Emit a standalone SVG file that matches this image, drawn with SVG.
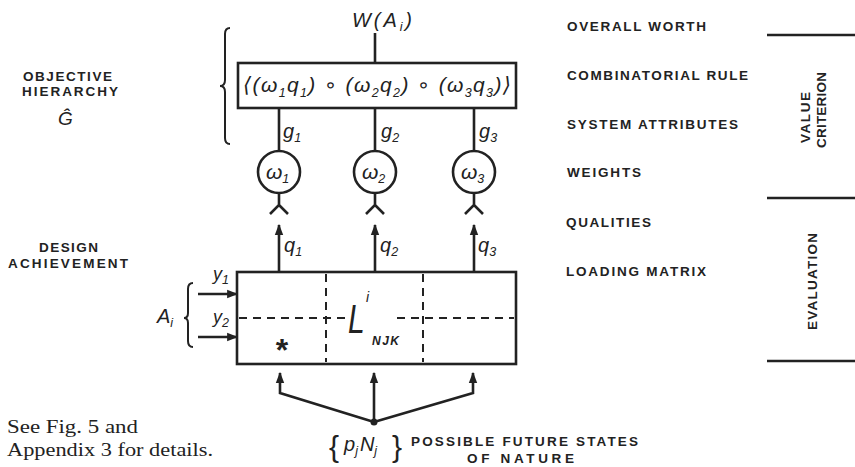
<svg xmlns="http://www.w3.org/2000/svg" width="855" height="467" viewBox="0 0 855 467">
<style>
.ln{stroke:#222;stroke-width:2.6;fill:none}
.dash{stroke:#222;stroke-width:2;fill:none;stroke-dasharray:8,6}
.lab{font-family:"Liberation Sans",Arial,sans-serif;font-weight:bold;font-size:13.5px;fill:#222}
.m{font-family:"Liberation Sans","DejaVu Sans",sans-serif;font-style:italic;font-size:20px;fill:#222}
.s{font-size:12.5px}
.serif{font-family:"Liberation Serif","Times New Roman",serif;font-size:19px;fill:#222}
</style>
<defs>
<marker id="ah" viewBox="0 0 10 10" refX="9" refY="5" markerWidth="11" markerHeight="11" markerUnits="userSpaceOnUse" orient="auto">
<path d="M0,1.2 L10,5 L0,8.8 Z" fill="#222"/>
</marker>
</defs>
<rect width="855" height="467" fill="#fff"/>

<g id="left-labels">
<text class="lab" x="23" y="81" textLength="89" lengthAdjust="spacing">OBJECTIVE</text>
<text class="lab" x="22" y="96" textLength="96" lengthAdjust="spacing">HIERARCHY</text>
<text class="m" x="58" y="125" style="font-size:19px">Ĝ</text>
<text class="lab" x="39" y="252" textLength="59" lengthAdjust="spacing">DESIGN</text>
<text class="lab" x="8" y="268" textLength="120" lengthAdjust="spacing">ACHIEVEMENT</text>
<text class="serif" x="7" y="433" textLength="131" lengthAdjust="spacingAndGlyphs">See Fig. 5 and</text>
<text class="serif" x="7" y="456" textLength="206" lengthAdjust="spacingAndGlyphs">Appendix 3 for details.</text>
</g>

<g id="right-labels">
<text class="lab" x="567" y="31" textLength="139" lengthAdjust="spacing">OVERALL WORTH</text>
<text class="lab" x="567" y="80" textLength="181" lengthAdjust="spacing">COMBINATORIAL RULE</text>
<text class="lab" x="567" y="129" textLength="171" lengthAdjust="spacing">SYSTEM ATTRIBUTES</text>
<text class="lab" x="567" y="177" textLength="74" lengthAdjust="spacing">WEIGHTS</text>
<text class="lab" x="566" y="227" textLength="85" lengthAdjust="spacing">QUALITIES</text>
<text class="lab" x="566" y="276" textLength="140" lengthAdjust="spacing">LOADING MATRIX</text>
<text class="lab" x="411" y="446" textLength="227" lengthAdjust="spacing">POSSIBLE FUTURE STATES</text>
<text class="lab" x="467" y="463" textLength="107" lengthAdjust="spacing">OF NATURE</text>
<path class="ln" d="M767,35 H855 M767,198 H855 M767,361 H855"/>
<text class="lab" transform="translate(810,143) rotate(-90)" textLength="51" lengthAdjust="spacing">VALUE</text>
<text class="lab" transform="translate(826,148) rotate(-90)" textLength="76" lengthAdjust="spacing">CRITERION</text>
<text class="lab" transform="translate(817,330) rotate(-90)" textLength="97" lengthAdjust="spacing">EVALUATION</text>
</g>

<g id="brace-top">
<path class="ln" style="stroke-width:2" d="M230,28 Q225,28 225,34 V80 Q225,86 220,86 Q225,86 225,92 V138 Q225,144 230,144"/>
</g>

<g id="worth">
<text class="m" x="352" y="27" textLength="60" lengthAdjust="spacing">W(A<tspan class="s" dy="4">i</tspan><tspan dy="-4">)</tspan></text>
</g>

<g id="rule-box">
<rect class="ln" x="238" y="63" width="278" height="45"/>
<text class="m" x="243" y="92" style="font-size:21px" textLength="268" lengthAdjust="spacing">⟨(ω<tspan class="s" dy="5">1</tspan><tspan dy="-5">q</tspan><tspan class="s" dy="5">1</tspan><tspan dy="-5">) ∘ (ω</tspan><tspan class="s" dy="5">2</tspan><tspan dy="-5">q</tspan><tspan class="s" dy="5">2</tspan><tspan dy="-5">) ∘ (ω</tspan><tspan class="s" dy="5">3</tspan><tspan dy="-5">q</tspan><tspan class="s" dy="5">3</tspan><tspan dy="-5">)⟩</tspan></text>
</g>

<g id="weight1">
<circle class="ln" cx="279" cy="172" r="21"/>
<text class="m" x="266" y="179" style="font-size:21px">ω<tspan class="s" dy="4">1</tspan></text>
</g>
<g id="weight2">
<circle class="ln" cx="375" cy="172" r="21"/>
<text class="m" x="362" y="179" style="font-size:21px">ω<tspan class="s" dy="4">2</tspan></text>
</g>
<g id="weight3">
<circle class="ln" cx="474" cy="172" r="21"/>
<text class="m" x="461" y="179" style="font-size:21px">ω<tspan class="s" dy="4">3</tspan></text>
</g>

<g id="matrix">
<rect class="ln" x="237" y="272" width="279" height="92"/>
<path class="dash" d="M326,274 V362 M423,274 V362"/>
<path class="dash" d="M239,318 H349 M397,318 H514"/>
<text class="m" transform="translate(348,333) scale(0.75,1)" style="font-size:40px">L</text>
<text class="m" x="366" y="302" style="font-size:14px">i</text>
<text class="m" x="372" y="345" style="font-size:12px;font-weight:bold" textLength="27" lengthAdjust="spacing">NJK</text>
<text class="m" x="282" y="361" text-anchor="middle" style="font-size:32px;font-style:normal;font-weight:bold">*</text>
</g>

<g id="alternative">
<text class="m" x="157" y="323">A<tspan class="s" dy="4">i</tspan></text>
<path class="ln" style="stroke-width:2" d="M193,283 Q188,283 188,289 V313 Q188,318 184,318 Q188,318 188,323 V341 Q188,347 193,347"/>
<text class="m" x="213" y="280" style="font-size:18px">y<tspan class="s" dy="4">1</tspan></text>
<text class="m" x="213" y="323" style="font-size:18px">y<tspan class="s" dy="4">2</tspan></text>
</g>

<g id="states">
<text class="m" x="329" y="457" style="font-size:30px;font-style:normal">{</text>
<text class="m" x="344" y="451">p<tspan class="s" dy="4">j</tspan><tspan dy="-4" dx="2">N</tspan><tspan class="s" dy="4">j</tspan></text>
<text class="m" x="392" y="457" style="font-size:30px;font-style:normal">}</text>
</g>

<g id="labels-math">
<text class="m" x="283" y="138">g<tspan class="s" dy="4">1</tspan></text>
<text class="m" x="381" y="138">g<tspan class="s" dy="4">2</tspan></text>
<text class="m" x="479" y="138">g<tspan class="s" dy="4">3</tspan></text>
<text class="m" x="284" y="252">q<tspan class="s" dy="4">1</tspan></text>
<text class="m" x="380" y="252">q<tspan class="s" dy="4">2</tspan></text>
<text class="m" x="478" y="252">q<tspan class="s" dy="4">3</tspan></text>
</g>

<g id="connectors">
<path class="ln" d="M375,33 V63"/>
<path class="ln" d="M279,108 V151 M375,108 V151 M474,108 V151"/>
<path class="ln" d="M279,193 V205 L270,214 M279,205 L288,214"/>
<path class="ln" d="M375,193 V205 L366,214 M375,205 L384,214"/>
<path class="ln" d="M474,193 V205 L465,214 M474,205 L483,214"/>
<path class="ln" marker-end="url(#ah)" d="M279,272 V225"/>
<path class="ln" marker-end="url(#ah)" d="M375,272 V225"/>
<path class="ln" marker-end="url(#ah)" d="M474,272 V225"/>
<path class="ln" marker-end="url(#ah)" d="M198,294 H237"/>
<path class="ln" marker-end="url(#ah)" d="M198,337 H237"/>
<path class="ln" marker-end="url(#ah)" d="M374,422 L280,393 V373"/>
<path class="ln" marker-end="url(#ah)" d="M374,422 V373"/>
<path class="ln" marker-end="url(#ah)" d="M374,422 L473,393 V373"/>
<circle cx="374" cy="422" r="3.5" fill="#222"/>
</g>
</svg>
